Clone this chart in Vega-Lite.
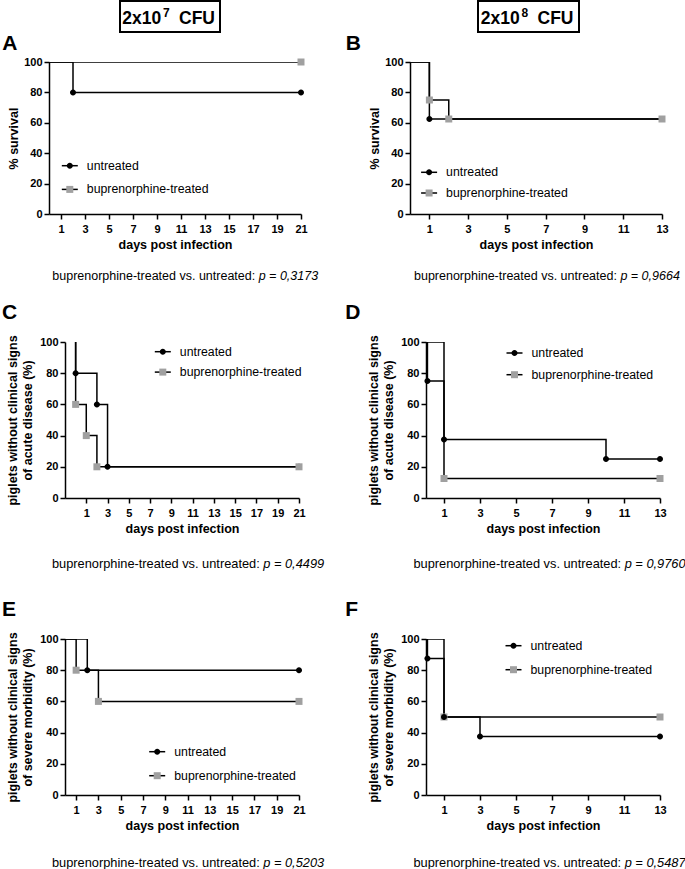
{
"$schema":"https://vega.github.io/schema/vega-lite/v6.json",
"background":"white",
"padding":{"left":1,"top":0,"right":1,"bottom":2},
"spacing":0,
"resolve":{"scale":{"stroke":"independent","fill":"independent","shape":"independent"}},
"config":{
 "font":"Liberation Sans",
 "view":{"stroke":null},
 "axis":{"domainColor":"black","domainWidth":1.5,"tickColor":"black","tickWidth":1.5,"tickSize":5,"tickCount":30,"format":"d","labelFont":"Liberation Sans","labelFontWeight":"bold","labelFontSize":11,"labelColor":"black","titleFont":"Liberation Sans","titleFontSize":12.5,"titleFontWeight":"bold","titleColor":"black","grid":false,"labelFlush":false,"labelOverlap":false},
 "axisX":{"labelPadding":4,"titlePadding":4},
 "axisY":{"labelPadding":2,"titlePadding":3,"titleLineHeight":15.5},
 "legend":{"padding":0,"labelFont":"Liberation Sans","labelFontSize":12.3,"labelColor":"black","symbolOpacity":1,"labelLimit":300,"labelOffset":8,"symbolSize":256,"symbolStrokeWidth":1.5},
 "title":{"font":"Liberation Sans","color":"black"}
},
"datasets":{
 "km":[
  {"p":"A","g":"untreated","day":0,"pct":100},{"p":"A","g":"untreated","day":2,"pct":80},{"p":"A","g":"untreated","day":21,"pct":80},
  {"p":"A","g":"buprenorphine-treated","day":0,"pct":100},{"p":"A","g":"buprenorphine-treated","day":21,"pct":100},
  {"p":"B","g":"untreated","day":0,"pct":100},{"p":"B","g":"untreated","day":1,"pct":62.5},{"p":"B","g":"untreated","day":13,"pct":62.5},
  {"p":"B","g":"buprenorphine-treated","day":0,"pct":100},{"p":"B","g":"buprenorphine-treated","day":1,"pct":75},{"p":"B","g":"buprenorphine-treated","day":2,"pct":62.5},{"p":"B","g":"buprenorphine-treated","day":13,"pct":62.5},
  {"p":"C","g":"untreated","day":0,"pct":100},{"p":"C","g":"untreated","day":0,"pct":80},{"p":"C","g":"untreated","day":2,"pct":60},{"p":"C","g":"untreated","day":3,"pct":20},{"p":"C","g":"untreated","day":21,"pct":20},
  {"p":"C","g":"buprenorphine-treated","day":0,"pct":100},{"p":"C","g":"buprenorphine-treated","day":0,"pct":60},{"p":"C","g":"buprenorphine-treated","day":1,"pct":40},{"p":"C","g":"buprenorphine-treated","day":2,"pct":20},{"p":"C","g":"buprenorphine-treated","day":21,"pct":20},
  {"p":"D","g":"untreated","day":0,"pct":100},{"p":"D","g":"untreated","day":0.08,"pct":75},{"p":"D","g":"untreated","day":1,"pct":37.5},{"p":"D","g":"untreated","day":10,"pct":25},{"p":"D","g":"untreated","day":13,"pct":25},
  {"p":"D","g":"buprenorphine-treated","day":0,"pct":100},{"p":"D","g":"buprenorphine-treated","day":1,"pct":12.5},{"p":"D","g":"buprenorphine-treated","day":13,"pct":12.5},
  {"p":"E","g":"untreated","day":0,"pct":100},{"p":"E","g":"untreated","day":2,"pct":80},{"p":"E","g":"untreated","day":21,"pct":80},
  {"p":"E","g":"buprenorphine-treated","day":0,"pct":100},{"p":"E","g":"buprenorphine-treated","day":1,"pct":80},{"p":"E","g":"buprenorphine-treated","day":3,"pct":60},{"p":"E","g":"buprenorphine-treated","day":21,"pct":60},
  {"p":"F","g":"buprenorphine-treated","day":0,"pct":100},{"p":"F","g":"buprenorphine-treated","day":1,"pct":50},{"p":"F","g":"buprenorphine-treated","day":13,"pct":50},
  {"p":"F","g":"untreated","day":0,"pct":100},{"p":"F","g":"untreated","day":0.08,"pct":87.5},{"p":"F","g":"untreated","day":1,"pct":50},{"p":"F","g":"untreated","day":3,"pct":37.5},{"p":"F","g":"untreated","day":13,"pct":37.5}
 ],
 "cap":[
  {"p":"A","pre":"buprenorphine-treated vs. untreated:","pv":"p = 0,3173"},
  {"p":"B","pre":"buprenorphine-treated vs. untreated:","pv":"p = 0,9664"},
  {"p":"C","pre":"buprenorphine-treated vs. untreated:","pv":"p = 0,4499"},
  {"p":"D","pre":"buprenorphine-treated vs. untreated:","pv":"p = 0,9760"},
  {"p":"E","pre":"buprenorphine-treated vs. untreated:","pv":"p = 0,5203"},
  {"p":"F","pre":"buprenorphine-treated vs. untreated:","pv":"p = 0,5487"}
 ],
 "hdr":[
  {"c":"L","base":"2x10","sup":"7","unit":"CFU"},
  {"c":"R","base":"2x10","sup":"8","unit":"CFU"}
 ],
 "sp":[{"t":""}]
},
"vconcat":[
 {"hconcat":[
  {"width":117.3,"height":31,"data":{"name":"sp"},"mark":"text","encoding":{"text":{"field":"t"}}},
  {"width":100,"height":31,"view":{"stroke":"black","strokeWidth":2},"data":{"name":"hdr"},"transform":[{"filter":"datum.c == 'L'"}],
   "layer":[
    {"mark":{"type":"text","fontSize":17.5,"fontWeight":"bold","align":"right","baseline":"alphabetic","dx":-8.8,"dy":7.8,"color":"black"},"encoding":{"text":{"field":"base"}}},
    {"mark":{"type":"text","fontSize":12,"fontWeight":"bold","align":"left","baseline":"alphabetic","dx":-7,"dy":0.4,"color":"black"},"encoding":{"text":{"field":"sup"}}},
    {"mark":{"type":"text","fontSize":17.5,"fontWeight":"bold","align":"left","baseline":"alphabetic","dx":9,"dy":7.8,"color":"black"},"encoding":{"text":{"field":"unit"}}}]},
  {"width":255.7,"height":31,"data":{"name":"sp"},"mark":"text","encoding":{"text":{"field":"t"}}},
  {"width":101,"height":31,"view":{"stroke":"black","strokeWidth":2},"data":{"name":"hdr"},"transform":[{"filter":"datum.c == 'R'"}],
   "layer":[
    {"mark":{"type":"text","fontSize":17.5,"fontWeight":"bold","align":"right","baseline":"alphabetic","dx":-8.8,"dy":7.8,"color":"black"},"encoding":{"text":{"field":"base"}}},
    {"mark":{"type":"text","fontSize":12,"fontWeight":"bold","align":"left","baseline":"alphabetic","dx":-7,"dy":0.4,"color":"black"},"encoding":{"text":{"field":"sup"}}},
    {"mark":{"type":"text","fontSize":17.5,"fontWeight":"bold","align":"left","baseline":"alphabetic","dx":9,"dy":7.8,"color":"black"},"encoding":{"text":{"field":"unit"}}}]}
 ],"spacing":0},
 {"hconcat":[
  {"width":0.01,"height":1,"data":{"name":"sp"},"mark":"text","encoding":{"text":{"field":"t"}}},
  {"vconcat":[
   {"width":252,"height":152,
    "title":{"text":"A","anchor":"start","frame":"group","dx":-46.7,"dy":18,"offset":3,"fontSize":21,"fontWeight":"bold","baseline":"alphabetic"},
    "data":{"name":"km"},"transform":[{"filter":"datum.p == 'A'"}],
    "layer":[
     {"mark":{"type":"line","interpolate":"step-after","strokeWidth":1.5,"clip":true},
      "encoding":{
       "x":{"field":"day","type":"quantitative","scale":{"domain":[0,21],"nice":false,"zero":false},"axis":{"values":[1,3,5,7,9,11,13,15,17,19,21],"title":"days post infection"}},
       "y":{"field":"pct","type":"quantitative","scale":{"domain":[0,100],"nice":false},"axis":{"values":[0,20,40,60,80,100],"title":"% survival","titlePadding":3}},
       "stroke":{"field":"g","type":"nominal","scale":{"domain":["untreated","buprenorphine-treated"],"range":["#000000","#000000"]},"legend":{"orient":"none","legendX":11.8,"legendY":94.7,"rowPadding":7.7,"title":null,"symbolType":"stroke","labelOpacity":0}},
       "order":[{"field":"day","type":"quantitative"},{"field":"pct","type":"quantitative","sort":"descending"}]}},
     {"transform":[{"filter":"datum.day > 0 || datum.pct < 100"}],
      "mark":{"type":"point","filled":true,"opacity":1,"size":256,"strokeWidth":0},
      "encoding":{
       "x":{"field":"day","type":"quantitative"},
       "y":{"field":"pct","type":"quantitative"},
       "fill":{"field":"g","type":"nominal","sort":"descending","scale":{"range":["#000000","#a0a0a0"]},"legend":{"orient":"none","legendX":11.8,"legendY":94.7,"rowPadding":7.7,"title":null,"symbolStrokeColor":"transparent"}},
       "shape":{"field":"g","type":"nominal","sort":"descending","scale":{"range":["M-1,0M1,0M0.375,0A0.375,0.375,0,1,1,-0.375,0A0.375,0.375,0,1,1,0.375,0Z","M-1,0M1,0M-0.4375,-0.4375H0.4375V0.4375H-0.4375Z"]},"legend":{"orient":"none","legendX":11.8,"legendY":94.7,"rowPadding":7.7,"title":null,"symbolStrokeColor":"transparent"}}}}
    ]},
   {"width":295.8,"height":49.7,"data":{"name":"cap"},"transform":[{"filter":"datum.p == 'A'"}],
    "layer":[
     {"mark":{"type":"text","align":"left","baseline":"middle","fontSize":12.5,"dx":-144.6,"dy":0.45,"color":"black"},"encoding":{"text":{"field":"pre"}}},
     {"mark":{"type":"text","align":"left","baseline":"middle","fontSize":12.5,"fontStyle":"italic","dx":61.8,"dy":0.45,"color":"black"},"encoding":{"text":{"field":"pv"}}}]}
  ],"spacing":0,"resolve":{"scale":{"stroke":"independent","fill":"independent","shape":"independent"}}},
  {"vconcat":[
   {"width":252,"height":152,
    "title":{"text":"B","anchor":"start","frame":"group","dx":-64.2,"dy":18,"offset":3,"fontSize":21,"fontWeight":"bold","baseline":"alphabetic"},
    "data":{"name":"km"},"transform":[{"filter":"datum.p == 'B'"}],
    "layer":[
     {"mark":{"type":"line","interpolate":"step-after","strokeWidth":1.5,"clip":true},
      "encoding":{
       "x":{"field":"day","type":"quantitative","scale":{"domain":[0,13],"nice":false,"zero":false},"axis":{"values":[1,3,5,7,9,11,13],"title":"days post infection"}},
       "y":{"field":"pct","type":"quantitative","scale":{"domain":[0,100],"nice":false},"axis":{"values":[0,20,40,60,80,100],"title":"% survival","titlePadding":3}},
       "stroke":{"field":"g","type":"nominal","scale":{"domain":["untreated","buprenorphine-treated"],"range":["#000000","#000000"]},"legend":{"orient":"none","legendX":10.1,"legendY":101.3,"rowPadding":4.7,"title":null,"symbolType":"stroke","labelOpacity":0}},
       "order":[{"field":"day","type":"quantitative"},{"field":"pct","type":"quantitative","sort":"descending"}]}},
     {"transform":[{"filter":"datum.day > 0 || datum.pct < 100"}],
      "mark":{"type":"point","filled":true,"opacity":1,"size":256,"strokeWidth":0},
      "encoding":{
       "x":{"field":"day","type":"quantitative"},
       "y":{"field":"pct","type":"quantitative"},
       "fill":{"field":"g","type":"nominal","sort":"descending","scale":{"range":["#000000","#a0a0a0"]},"legend":{"orient":"none","legendX":10.1,"legendY":101.3,"rowPadding":4.7,"title":null,"symbolStrokeColor":"transparent"}},
       "shape":{"field":"g","type":"nominal","sort":"descending","scale":{"range":["M-1,0M1,0M0.375,0A0.375,0.375,0,1,1,-0.375,0A0.375,0.375,0,1,1,0.375,0Z","M-1,0M1,0M-0.4375,-0.4375H0.4375V0.4375H-0.4375Z"]},"legend":{"orient":"none","legendX":10.1,"legendY":101.3,"rowPadding":4.7,"title":null,"symbolStrokeColor":"transparent"}}}}
    ]},
   {"width":100,"height":49.7,"data":{"name":"cap"},"transform":[{"filter":"datum.p == 'B'"}],
    "layer":[
     {"mark":{"type":"text","align":"left","baseline":"middle","fontSize":12.5,"dx":-46,"dy":0.45,"color":"black"},"encoding":{"text":{"field":"pre"}}},
     {"mark":{"type":"text","align":"left","baseline":"middle","fontSize":12.5,"fontStyle":"italic","dx":160.4,"dy":0.45,"color":"black"},"encoding":{"text":{"field":"pv"}}}]}
  ],"spacing":0,"resolve":{"scale":{"stroke":"independent","fill":"independent","shape":"independent"}}}
 ],"spacing":0,"resolve":{"scale":{"stroke":"independent","fill":"independent","shape":"independent"}}},
 {"hconcat":[
  {"width":0.01,"height":1,"data":{"name":"sp"},"mark":"text","encoding":{"text":{"field":"t"}}},
  {"vconcat":[
   {"width":234,"height":156,
    "title":{"text":"C","anchor":"start","frame":"group","dx":-63,"dy":18,"offset":13,"fontSize":21,"fontWeight":"bold","baseline":"alphabetic"},
    "data":{"name":"km"},"transform":[{"filter":"datum.p == 'C'"}],
    "layer":[
     {"mark":{"type":"line","interpolate":"step-after","strokeWidth":1.5,"clip":true},
      "encoding":{
       "x":{"field":"day","type":"quantitative","scale":{"domain":[-1,21],"nice":false,"zero":false},"axis":{"values":[1,3,5,7,9,11,13,15,17,19,21],"title":"days post infection"}},
       "y":{"field":"pct","type":"quantitative","scale":{"domain":[0,100],"nice":false},"axis":{"values":[0,20,40,60,80,100],"title":["piglets without clinical signs","of acute disease (%)"],"titlePadding":5}},
       "stroke":{"field":"g","type":"nominal","scale":{"domain":["untreated","buprenorphine-treated"],"range":["#000000","#000000"]},"legend":{"orient":"none","legendX":88.8,"legendY":0.7,"rowPadding":4.4,"title":null,"symbolType":"stroke","labelOpacity":0}},
       "order":[{"field":"day","type":"quantitative"},{"field":"pct","type":"quantitative","sort":"descending"}]}},
     {"transform":[{"filter":"datum.day > 0 || datum.pct < 100"}],
      "mark":{"type":"point","filled":true,"opacity":1,"size":256,"strokeWidth":0},
      "encoding":{
       "x":{"field":"day","type":"quantitative"},
       "y":{"field":"pct","type":"quantitative"},
       "fill":{"field":"g","type":"nominal","sort":"descending","scale":{"range":["#000000","#a0a0a0"]},"legend":{"orient":"none","legendX":88.8,"legendY":0.7,"rowPadding":4.4,"title":null,"symbolStrokeColor":"transparent"}},
       "shape":{"field":"g","type":"nominal","sort":"descending","scale":{"range":["M-1,0M1,0M0.375,0A0.375,0.375,0,1,1,-0.375,0A0.375,0.375,0,1,1,0.375,0Z","M-1,0M1,0M-0.4375,-0.4375H0.4375V0.4375H-0.4375Z"]},"legend":{"orient":"none","legendX":88.8,"legendY":0.7,"rowPadding":4.4,"title":null,"symbolStrokeColor":"transparent"}}}}
    ]},
   {"width":279.5,"height":62.1,"data":{"name":"cap"},"transform":[{"filter":"datum.p == 'C'"}],
    "layer":[
     {"mark":{"type":"text","align":"left","baseline":"middle","fontSize":12.8,"dx":-152.75,"dy":-2.05,"color":"black"},"encoding":{"text":{"field":"pre"}}},
     {"mark":{"type":"text","align":"left","baseline":"middle","fontSize":12.8,"fontStyle":"italic","dx":58.55,"dy":-2.05,"color":"black"},"encoding":{"text":{"field":"pv"}}}]}
  ],"spacing":0,"resolve":{"scale":{"stroke":"independent","fill":"independent","shape":"independent"}}},
  {"vconcat":[
   {"width":234,"height":156,
    "title":{"text":"D","anchor":"start","frame":"group","dx":-80.8,"dy":18,"offset":13,"fontSize":21,"fontWeight":"bold","baseline":"alphabetic"},
    "data":{"name":"km"},"transform":[{"filter":"datum.p == 'D'"}],
    "layer":[
     {"mark":{"type":"line","interpolate":"step-after","strokeWidth":1.5,"clip":true},
      "encoding":{
       "x":{"field":"day","type":"quantitative","scale":{"domain":[0,13],"nice":false,"zero":false},"axis":{"values":[1,3,5,7,9,11,13],"title":"days post infection"}},
       "y":{"field":"pct","type":"quantitative","scale":{"domain":[0,100],"nice":false},"axis":{"values":[0,20,40,60,80,100],"title":["piglets without clinical signs","of acute disease (%)"],"titlePadding":5}},
       "stroke":{"field":"g","type":"nominal","scale":{"domain":["untreated","buprenorphine-treated"],"range":["#000000","#000000"]},"legend":{"orient":"none","legendX":79.5,"legendY":2,"rowPadding":5.7,"title":null,"symbolType":"stroke","labelOpacity":0}},
       "order":[{"field":"day","type":"quantitative"},{"field":"pct","type":"quantitative","sort":"descending"}]}},
     {"transform":[{"filter":"datum.day > 0 || datum.pct < 100"}],
      "mark":{"type":"point","filled":true,"opacity":1,"size":256,"strokeWidth":0},
      "encoding":{
       "x":{"field":"day","type":"quantitative"},
       "y":{"field":"pct","type":"quantitative"},
       "fill":{"field":"g","type":"nominal","sort":"descending","scale":{"range":["#000000","#a0a0a0"]},"legend":{"orient":"none","legendX":79.5,"legendY":2,"rowPadding":5.7,"title":null,"symbolStrokeColor":"transparent"}},
       "shape":{"field":"g","type":"nominal","sort":"descending","scale":{"range":["M-1,0M1,0M0.375,0A0.375,0.375,0,1,1,-0.375,0A0.375,0.375,0,1,1,0.375,0Z","M-1,0M1,0M-0.4375,-0.4375H0.4375V0.4375H-0.4375Z"]},"legend":{"orient":"none","legendX":79.5,"legendY":2,"rowPadding":5.7,"title":null,"symbolStrokeColor":"transparent"}}}}
    ]},
   {"width":100,"height":62.1,"data":{"name":"cap"},"transform":[{"filter":"datum.p == 'D'"}],
    "layer":[
     {"mark":{"type":"text","align":"left","baseline":"middle","fontSize":12.8,"dx":-62.6,"dy":-2.05,"color":"black"},"encoding":{"text":{"field":"pre"}}},
     {"mark":{"type":"text","align":"left","baseline":"middle","fontSize":12.8,"fontStyle":"italic","dx":148.7,"dy":-2.05,"color":"black"},"encoding":{"text":{"field":"pv"}}}]}
  ],"spacing":0,"resolve":{"scale":{"stroke":"independent","fill":"independent","shape":"independent"}}}
 ],"spacing":0,"resolve":{"scale":{"stroke":"independent","fill":"independent","shape":"independent"}}},
 {"hconcat":[
  {"width":0.01,"height":1,"data":{"name":"sp"},"mark":"text","encoding":{"text":{"field":"t"}}},
  {"vconcat":[
   {"width":234,"height":156,
    "title":{"text":"E","anchor":"start","frame":"group","dx":-63,"dy":18,"offset":13,"fontSize":21,"fontWeight":"bold","baseline":"alphabetic"},
    "data":{"name":"km"},"transform":[{"filter":"datum.p == 'E'"}],
    "layer":[
     {"mark":{"type":"line","interpolate":"step-after","strokeWidth":1.5,"clip":true},
      "encoding":{
       "x":{"field":"day","type":"quantitative","scale":{"domain":[0,21],"nice":false,"zero":false},"axis":{"values":[1,3,5,7,9,11,13,15,17,19,21],"title":"days post infection"}},
       "y":{"field":"pct","type":"quantitative","scale":{"domain":[0,100],"nice":false},"axis":{"values":[0,20,40,60,80,100],"title":["piglets without clinical signs","of severe morbidity (%)"],"titlePadding":5}},
       "stroke":{"field":"g","type":"nominal","scale":{"domain":["untreated","buprenorphine-treated"],"range":["#000000","#000000"]},"legend":{"orient":"none","legendX":83.2,"legendY":103.7,"rowPadding":8,"title":null,"symbolType":"stroke","labelOpacity":0}},
       "order":[{"field":"day","type":"quantitative"},{"field":"pct","type":"quantitative","sort":"descending"}]}},
     {"transform":[{"filter":"datum.day > 0 || datum.pct < 100"}],
      "mark":{"type":"point","filled":true,"opacity":1,"size":256,"strokeWidth":0},
      "encoding":{
       "x":{"field":"day","type":"quantitative"},
       "y":{"field":"pct","type":"quantitative"},
       "fill":{"field":"g","type":"nominal","sort":"descending","scale":{"range":["#000000","#a0a0a0"]},"legend":{"orient":"none","legendX":83.2,"legendY":103.7,"rowPadding":8,"title":null,"symbolStrokeColor":"transparent"}},
       "shape":{"field":"g","type":"nominal","sort":"descending","scale":{"range":["M-1,0M1,0M0.375,0A0.375,0.375,0,1,1,-0.375,0A0.375,0.375,0,1,1,0.375,0Z","M-1,0M1,0M-0.4375,-0.4375H0.4375V0.4375H-0.4375Z"]},"legend":{"orient":"none","legendX":83.2,"legendY":103.7,"rowPadding":8,"title":null,"symbolStrokeColor":"transparent"}}}}
    ]},
   {"width":279.5,"height":30,"data":{"name":"cap"},"transform":[{"filter":"datum.p == 'E'"}],
    "layer":[
     {"mark":{"type":"text","align":"left","baseline":"middle","fontSize":12.8,"dx":-152.75,"dy":16,"color":"black"},"encoding":{"text":{"field":"pre"}}},
     {"mark":{"type":"text","align":"left","baseline":"middle","fontSize":12.8,"fontStyle":"italic","dx":58.55,"dy":16,"color":"black"},"encoding":{"text":{"field":"pv"}}}]}
  ],"spacing":0,"resolve":{"scale":{"stroke":"independent","fill":"independent","shape":"independent"}}},
  {"vconcat":[
   {"width":234,"height":156,
    "title":{"text":"F","anchor":"start","frame":"group","dx":-80.8,"dy":18,"offset":13,"fontSize":21,"fontWeight":"bold","baseline":"alphabetic"},
    "data":{"name":"km"},"transform":[{"filter":"datum.p == 'F'"}],
    "layer":[
     {"mark":{"type":"line","interpolate":"step-after","strokeWidth":1.5,"clip":true},
      "encoding":{
       "x":{"field":"day","type":"quantitative","scale":{"domain":[0,13],"nice":false,"zero":false},"axis":{"values":[1,3,5,7,9,11,13],"title":"days post infection"}},
       "y":{"field":"pct","type":"quantitative","scale":{"domain":[0,100],"nice":false},"axis":{"values":[0,20,40,60,80,100],"title":["piglets without clinical signs","of severe morbidity (%)"],"titlePadding":5}},
       "stroke":{"field":"g","type":"nominal","scale":{"domain":["untreated","buprenorphine-treated"],"range":["#000000","#000000"]},"legend":{"orient":"none","legendX":78.5,"legendY":-2.3,"rowPadding":8,"title":null,"symbolType":"stroke","labelOpacity":0}},
       "order":[{"field":"day","type":"quantitative"},{"field":"pct","type":"quantitative","sort":"descending"}]}},
     {"transform":[{"filter":"datum.day > 0 || datum.pct < 100"}],
      "mark":{"type":"point","filled":true,"opacity":1,"size":256,"strokeWidth":0},
      "encoding":{
       "x":{"field":"day","type":"quantitative"},
       "y":{"field":"pct","type":"quantitative"},
       "fill":{"field":"g","type":"nominal","sort":"descending","scale":{"range":["#000000","#a0a0a0"]},"legend":{"orient":"none","legendX":78.5,"legendY":-2.3,"rowPadding":8,"title":null,"symbolStrokeColor":"transparent"}},
       "shape":{"field":"g","type":"nominal","sort":"descending","scale":{"range":["M-1,0M1,0M0.375,0A0.375,0.375,0,1,1,-0.375,0A0.375,0.375,0,1,1,0.375,0Z","M-1,0M1,0M-0.4375,-0.4375H0.4375V0.4375H-0.4375Z"]},"legend":{"orient":"none","legendX":78.5,"legendY":-2.3,"rowPadding":8,"title":null,"symbolStrokeColor":"transparent"}}}}
    ]},
   {"width":100,"height":30,"data":{"name":"cap"},"transform":[{"filter":"datum.p == 'F'"}],
    "layer":[
     {"mark":{"type":"text","align":"left","baseline":"middle","fontSize":12.8,"dx":-62.6,"dy":16,"color":"black"},"encoding":{"text":{"field":"pre"}}},
     {"mark":{"type":"text","align":"left","baseline":"middle","fontSize":12.8,"fontStyle":"italic","dx":148.7,"dy":16,"color":"black"},"encoding":{"text":{"field":"pv"}}}]}
  ],"spacing":0,"resolve":{"scale":{"stroke":"independent","fill":"independent","shape":"independent"}}}
 ],"spacing":0,"resolve":{"scale":{"stroke":"independent","fill":"independent","shape":"independent"}}}
]
}
